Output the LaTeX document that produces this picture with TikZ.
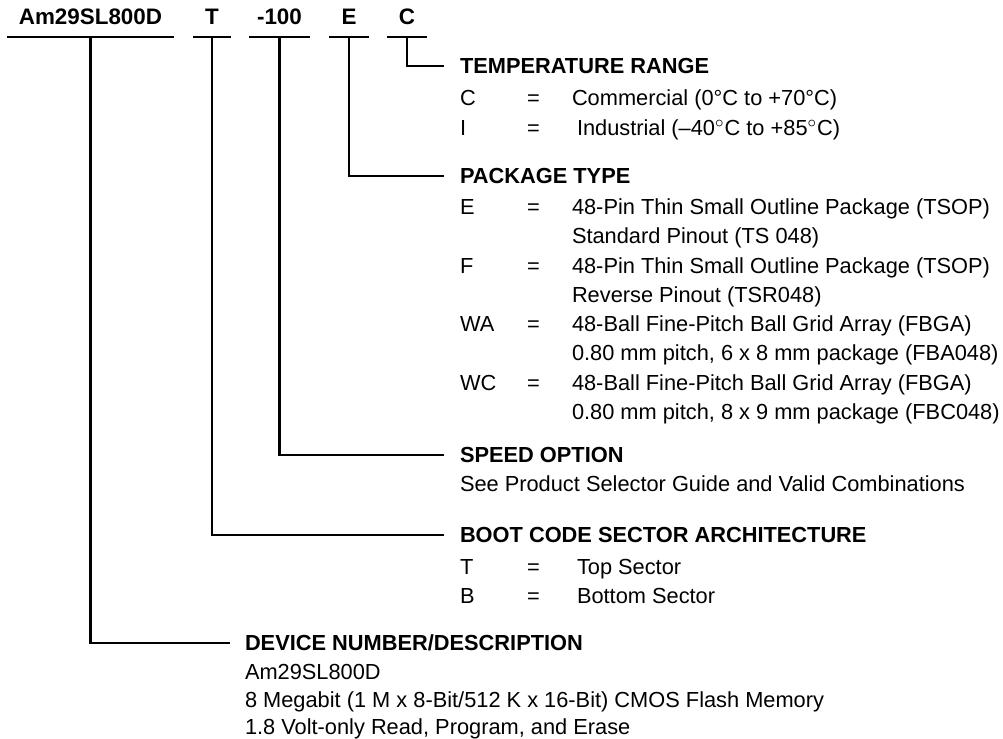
\documentclass[tikz,border=0pt]{standalone}
\usepackage{fontspec}
\setmainfont{Liberation Sans}
\usetikzlibrary{positioning}
\tikzset{font=\fontsize{10.9}{13}\selectfont}
\tikzset{every node/.append style={inner sep=0pt, outer sep=0pt}}
\tikzset{code/.style={font=\fontsize{11.2}{13}\selectfont\bfseries, anchor=south,
  inner ysep=6pt, text depth=0pt, minimum width=#1}}
\tikzset{head/.style={font=\fontsize{10.9}{13}\selectfont\bfseries, anchor=west,
  text height=7.8pt, text depth=0pt}}
\tikzset{item/.style={anchor=base west}}
\tikzset{lead/.style={line width=1.1pt}}

\begin{document}
\begin{tikzpicture}[x=0.5pt, y=-0.5pt]
\useasboundingbox (0,0) rectangle (1003,739);
% ordering code
\node[code=83.5pt] (dev) at (90.5,37) {Am29SL800D};
\node[code=19pt] (boot) at (212,37) {T};
\node[code=30.5pt] (speed) at (279.5,37) {-100};
\node[code=20pt] (pkg) at (349,37) {E};
\node[code=20pt] (temp) at (407,37) {C};
\foreach \n in {dev,boot,speed,pkg,temp}
  \draw[lead] (\n.south west) -- (\n.south east);

% temperature range
\node[head] (temphd) at (460,66) {TEMPERATURE RANGE};
\node[item] (tc) at (460,105) {C};
\node[item] at (527,105) {=};
\node[item] at (572,105) {Commercial (0°C to +70°C)};
\node[item] (ti) at (460,135) {I};
\node[item] at (527,135) {=};
\node[item] at (577,135) {Industrial (–40$^\circ$C to +85$^\circ$C)};

% package type
\node[head] (pkghd) at (460,176) {PACKAGE TYPE};
\node[item] at (460,214) {E};
\node[item] at (527,214) {=};
\node[item] at (572,214) {48-Pin Thin Small Outline Package (TSOP)};
\node[item] at (572,243) {Standard Pinout (TS 048)};
\node[item] at (460,273) {F};
\node[item] at (527,273) {=};
\node[item] at (572,273) {48-Pin Thin Small Outline Package (TSOP)};
\node[item] at (572,302) {Reverse Pinout (TSR048)};
\node[item] at (460,331) {WA};
\node[item] at (527,331) {=};
\node[item] at (572,331) {48-Ball Fine-Pitch Ball Grid Array (FBGA)};
\node[item] at (572,360) {0.80 mm pitch, 6 x 8 mm package (FBA048)};
\node[item] at (460,390) {WC};
\node[item] at (527,390) {=};
\node[item] at (572,390) {48-Ball Fine-Pitch Ball Grid Array (FBGA)};
\node[item] at (572,419) {0.80 mm pitch, 8 x 9 mm package (FBC048)};

% speed option
\node[head] (speedhd) at (460,455) {SPEED OPTION};
\node[item] at (460,491) {See Product Selector Guide and Valid Combinations};

% boot code sector architecture
\node[head] (boothd) at (460,535) {BOOT CODE SECTOR ARCHITECTURE};
\node[item] at (460,574) {T};
\node[item] at (527,574) {=};
\node[item] at (577,574) {Top Sector};
\node[item] at (460,603) {B};
\node[item] at (527,603) {=};
\node[item] at (577,603) {Bottom Sector};

% device number
\node[head] (devhd) at (245,643) {DEVICE NUMBER/DESCRIPTION};
\node[item] at (245,679) {Am29SL800D};
\node[item] at (245,707) {8 Megabit (1 M x 8-Bit/512 K x 16-Bit) CMOS Flash Memory};
\node[item] at (245,734) {1.8 Volt-only Read, Program, and Erase};

% leaders
\draw[lead] (temp.south) |- ([xshift=-8pt]temphd.west);
\draw[lead] (pkg.south) |- ([xshift=-8pt]pkghd.west);
\draw[lead] (speed.south) |- ([xshift=-8pt]speedhd.west);
\draw[lead] (boot.south) |- ([xshift=-8pt]boothd.west);
\draw[lead] (dev.south) |- ([xshift=-7.5pt]devhd.west);
\end{tikzpicture}
\end{document}
